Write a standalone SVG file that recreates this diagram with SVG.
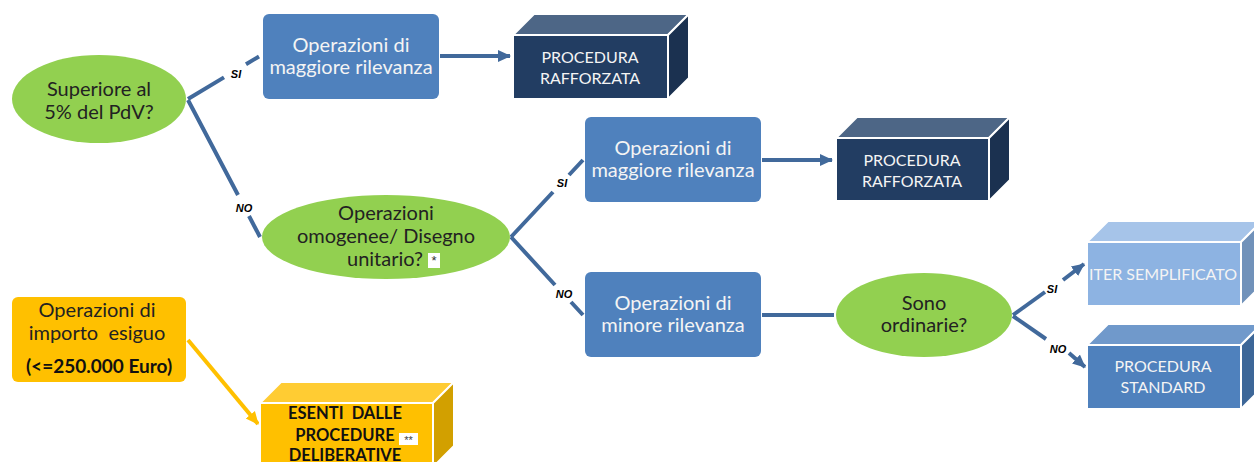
<svg xmlns="http://www.w3.org/2000/svg" width="1254" height="462" viewBox="0 0 1254 462">
<style>
.t{font-family:Lato,"Carlito","Open Sans",sans-serif;font-size:20px;text-anchor:middle}
.wt{fill:#F4F4F4}
.dk{fill:#222222}
.box{fill:#4F81BD}
.ell{fill:#92D050}
.cap{font-family:Lato,"Open Sans",sans-serif;font-size:16px;text-anchor:middle;fill:#F4F4F4}
.lab{font-family:"Liberation Sans",Arial,sans-serif;font-size:11px;font-weight:bold;font-style:italic;text-anchor:middle;fill:#000}
.ln{stroke:#41699B;stroke-width:4;fill:none}
.yl{stroke:#FFC000;stroke-width:4;fill:none}
.face{stroke:#FFFFFF;stroke-width:2;stroke-linejoin:round}
.bold{font-family:Lato,"Open Sans",sans-serif;font-weight:bold;text-anchor:middle;fill:#111}
</style>
<defs>
<marker id="ab" markerWidth="14" markerHeight="14" refX="12" refY="6" orient="auto" markerUnits="userSpaceOnUse" viewBox="0 0 14 12">
<path d="M0,0 L13,6 L0,12 Z" fill="#41699B"/>
</marker>
<marker id="ay" markerWidth="14" markerHeight="14" refX="12" refY="6" orient="auto" markerUnits="userSpaceOnUse" viewBox="0 0 14 12">
<path d="M0,0 L13,6 L0,12 Z" fill="#FFC000"/>
</marker>
</defs>
<rect width="1254" height="462" fill="#FFFFFF"/>

<g id="connectors">
<path class="ln" d="M188,99 L224,77.4 M246,64.2 L259,56.5"/>
<path class="ln" d="M188,100 L238,195 M249,216 L260,237"/>
<line class="ln" x1="440" y1="56" x2="510" y2="56" marker-end="url(#ab)"/>
<path class="ln" d="M511,237 L553,192 M569,175 L583,160"/>
<path class="ln" d="M511,237 L555,285 M571,302 L583,315"/>
<line class="ln" x1="762" y1="160" x2="832" y2="160" marker-end="url(#ab)"/>
<line class="ln" x1="762" y1="315" x2="834" y2="315"/>
<path class="ln" d="M1013,315 L1045,292"/>
<line class="ln" x1="1063" y1="280" x2="1084" y2="264" marker-end="url(#ab)"/>
<path class="ln" d="M1013,316 L1046,339"/>
<line class="ln" x1="1069" y1="353" x2="1085" y2="367" marker-end="url(#ab)"/>
<line class="yl" x1="188" y1="340" x2="258" y2="424" marker-end="url(#ay)"/>
<text class="lab" x="236" y="78">SI</text>
<text class="lab" x="244" y="212">NO</text>
<text class="lab" x="562" y="187">SI</text>
<text class="lab" x="564" y="298">NO</text>
<text class="lab" x="1052" y="293">SI</text>
<text class="lab" x="1058" y="353">NO</text>
</g>

<g id="n-superiore">
<ellipse class="ell" cx="99" cy="99" rx="87" ry="44"/>
<text class="t dk" x="99" y="96">Superiore al</text>
<text class="t dk" x="99" y="119">5% del PdV?</text>
</g>

<g id="n-maggiore1">
<rect class="box" x="263" y="14" width="176" height="85" rx="6"/>
<text class="t wt" x="351" y="52">Operazioni di</text>
<text class="t wt" x="351" y="74">maggiore rilevanza</text>
</g>

<g id="n-rafforzata1">
<polygon class="face" points="513,35 534,14 689,14 668,35" fill="#4D6686"/>
<polygon class="face" points="668,35 689,14 689,78 668,99" fill="#1B3150"/>
<rect class="face" x="513" y="35" width="155" height="64" fill="#223D62"/>
<text class="cap" x="590" y="63">PROCEDURA</text>
<text class="cap" x="590" y="84">RAFFORZATA</text>
</g>

<g id="n-omogenee">
<ellipse class="ell" cx="386" cy="237" rx="124" ry="42"/>
<text class="t dk" x="386" y="220">Operazioni</text>
<text class="t dk" x="386" y="243">omogenee/ Disegno</text>
<text class="t dk" x="385" y="266">unitario?</text>
<rect x="428" y="253" width="12" height="15" fill="#FFFFFF"/>
<text x="434" y="265" font-family="Liberation Sans,Arial,sans-serif" font-size="13" text-anchor="middle" fill="#333">*</text>
</g>

<g id="n-maggiore2">
<rect class="box" x="585" y="117" width="176" height="85" rx="6"/>
<text class="t wt" x="673" y="155">Operazioni di</text>
<text class="t wt" x="673" y="177">maggiore rilevanza</text>
</g>

<g id="n-rafforzata2">
<polygon class="face" points="836,138 857,117 1010,117 989,138" fill="#4D6686"/>
<polygon class="face" points="989,138 1010,117 1010,180 989,201" fill="#1B3150"/>
<rect class="face" x="836" y="138" width="153" height="63" fill="#223D62"/>
<text class="cap" x="912" y="166">PROCEDURA</text>
<text class="cap" x="912" y="187">RAFFORZATA</text>
</g>

<g id="n-minore">
<rect class="box" x="585" y="272" width="176" height="85" rx="6"/>
<text class="t wt" x="673" y="310">Operazioni di</text>
<text class="t wt" x="673" y="332">minore rilevanza</text>
</g>

<g id="n-ordinarie">
<ellipse class="ell" cx="924" cy="315" rx="88" ry="42"/>
<text class="t dk" x="924" y="310">Sono</text>
<text class="t dk" x="924" y="332">ordinarie?</text>
</g>

<g id="n-iter">
<polygon class="face" points="1087,242 1108,221 1262,221 1241,242" fill="#A6C4E9"/>
<polygon class="face" points="1241,242 1262,221 1262,285 1241,306" fill="#7192BA"/>
<rect class="face" x="1087" y="242" width="154" height="64" fill="#8DB3E2"/>
<text class="cap" x="1163" y="280" font-size="16.8">ITER SEMPLIFICATO</text>
</g>

<g id="n-standard">
<polygon class="face" points="1087,345 1108,324 1262,324 1241,345" fill="#7099CB"/>
<polygon class="face" points="1241,345 1262,324 1262,388 1241,409" fill="#3D6798"/>
<rect class="face" x="1087" y="345" width="154" height="64" fill="#4F81BD"/>
<text class="cap" x="1163" y="372">PROCEDURA</text>
<text class="cap" x="1163" y="393">STANDARD</text>
</g>

<g id="n-esiguo">
<rect x="12" y="297" width="174" height="85" rx="6" fill="#FFC000"/>
<text class="t dk" x="97" y="317">Operazioni di</text>
<text class="t dk" x="97" y="340" xml:space="preserve">importo  esiguo</text>
<text class="bold" x="99" y="373" font-size="19">(&lt;=250.000 Euro)</text>
</g>

<g id="n-esenti">
<polygon class="face" points="260,403 281,382 454,382 433,403" fill="#FFCC33"/>
<polygon class="face" points="433,403 454,382 454,446 433,467" fill="#D2A000"/>
<rect class="face" x="260" y="403" width="173" height="64" fill="#FFC000"/>
<text class="bold" x="345" y="419" font-size="16.5" xml:space="preserve">ESENTI  DALLE</text>
<text class="bold" x="345" y="441" font-size="16.5">PROCEDURE</text>
<rect x="399" y="433" width="19" height="12" fill="#FFFFFF"/>
<text x="408.5" y="444" font-family="Liberation Sans,Arial,sans-serif" font-size="11" text-anchor="middle" fill="#444">**</text>
<text class="bold" x="345" y="461" font-size="16.5">DELIBERATIVE</text>
</g>
</svg>
